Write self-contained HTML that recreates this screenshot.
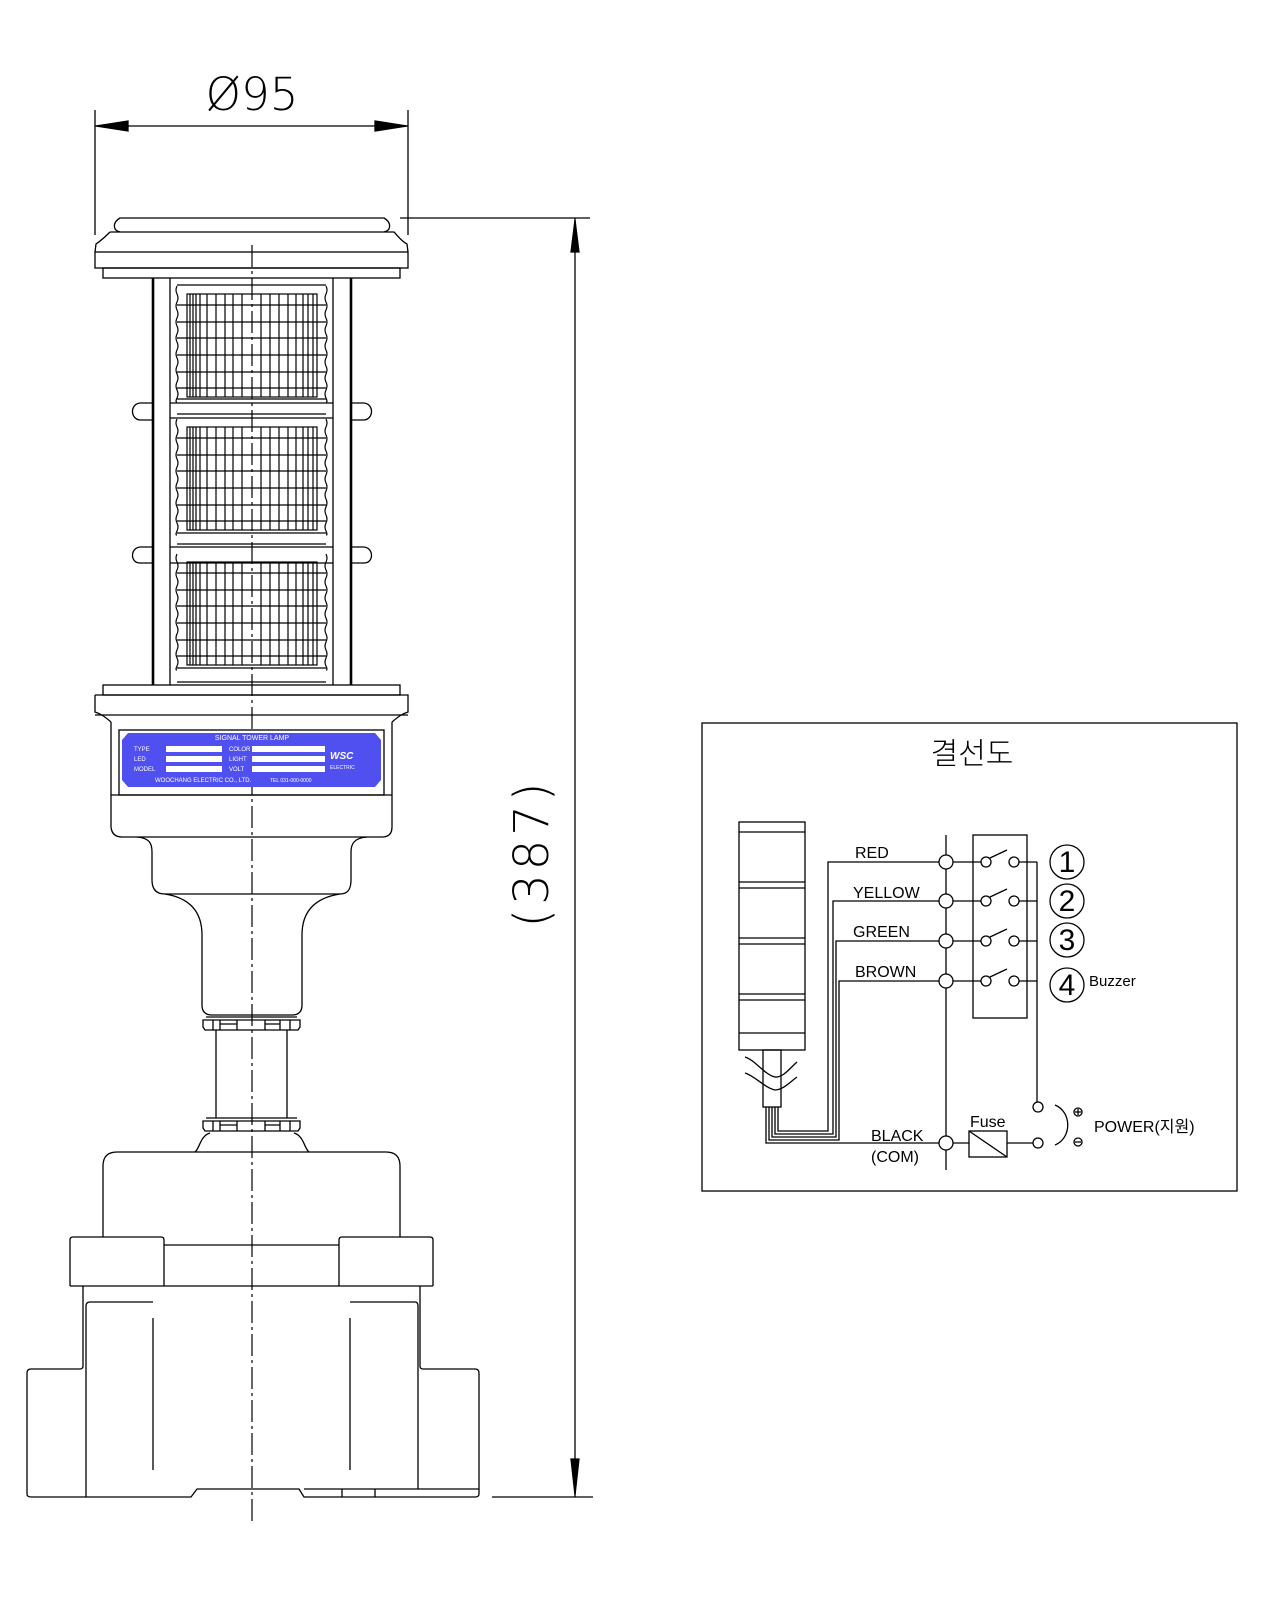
<!DOCTYPE html>
<html><head><meta charset="utf-8"><style>
html,body{margin:0;padding:0;background:#fff;}
svg{display:block;}
text{font-family:"Liberation Sans","Noto Sans CJK KR",sans-serif;}
</style></head><body>
<svg width="1280" height="1600" viewBox="0 0 1280 1600" xmlns="http://www.w3.org/2000/svg">
<defs>
<g id="tier" fill="none" stroke="#000" stroke-width="1.2">
  <path d="M177 286 q-2 4 0 8 q2 4 0 8 q-2 4 0 8 q2 4 0 8 q-2 4 0 8 q2 4 0 8 q-2 4 0 8 q2 4 0 8 q-2 4 0 8 q2 4 0 8 q-2 4 0 8 q2 4 0 8 q-2 4 0 8 q2 4 0 8 q-2 4 0 4"/>
  <path d="M326 286 q2 4 0 8 q-2 4 0 8 q2 4 0 8 q-2 4 0 8 q2 4 0 8 q-2 4 0 8 q2 4 0 8 q-2 4 0 8 q2 4 0 8 q-2 4 0 8 q2 4 0 8 q-2 4 0 8 q2 4 0 8 q-2 4 0 8 q2 4 0 4"/>
  <rect x="187" y="294" width="130" height="103"/>
  <path d="M190 294V397M193 294V397M196 294V397M200 294V397M207 294V397M216 294V397M225 294V397M233 294V397M242 294V397M261 294V397M270 294V397M279 294V397M288 294V397M296 294V397M303 294V397M308 294V397M313 294V397"/>
  <path d="M177 305H326M177 322H326M177 338H326M177 355H326M177 372H326M177 388H326"/>
</g>
</defs>

<g fill="none" stroke="#000" stroke-width="1.3">
<path d="M95 110V235M408 110V235M95 126H408"/>
<path d="M96 126L128 121L128 131Z M407 126L375 121L375 131Z" fill="#000"/>
<path d="M400 218H590M492 1497H593M575 218V1497"/>
<path d="M575 220L571 252H579Z M575 1495L571 1459H579Z" fill="#000"/>

<path d="M120 232 C112 230 113 222 120 218 H384 C391 222 392 230 384 232"/>
<path d="M110 232 H394 C398 236 400 240 407 244 L408 252 M110 232 C106 236 102 240 96 244 L95 252"/>
<rect x="95" y="252" width="313" height="16"/>
<rect x="103" y="268" width="297" height="10"/>
<path d="M170 278V685M333 278V685"/>
<path d="M153 278V685M351 278V685" stroke-width="2.6"/>
<path d="M177 285H326"/>
<use href="#tier"/>
<use href="#tier" transform="translate(0,133)"/>
<use href="#tier" transform="translate(0,268)"/>
<path d="M170 403H333M170 418H333M177 399H326M177 414H326" />
<path d="M170 547H333M170 563H333M177 533H326M177 544H326"/>
<path d="M177 668H326M177 682H326"/>
<path d="M153 403H140 C130 404 130 419 140 420H153 M351 403H364 C374 404 374 419 364 420H351"/>
<path d="M153 547H140 C130 548 130 563 140 563H153 M351 547H364 C374 548 374 563 364 563H351"/>

<rect x="103" y="685" width="297" height="10"/>
<path d="M95 695H408V712 C402 714 399 716 392 722 M95 695V712 C101 714 104 716 111 722"/>
<path d="M95 715H408"/>
<path d="M111 722V827 Q112 837 122 837H382 Q392 837 392 827V722"/>
<path d="M111 795H392"/>
<rect x="119" y="730" width="265" height="65"/>
<path d="M137 837 C150 838 152 844 152 852V880 C152 889 156 894 165 894 H340 C348 894 351 889 351 880V852 C351 844 354 838 367 837"/>
<path d="M165 894 C190 898 202 912 202 935V1005 Q202 1015 212 1015H292 Q302 1015 302 1005V935 C302 912 314 898 340 894"/>
<path d="M203 1020H300V1027L298 1030H205L203 1027Z"/>
<path d="M206 1017H297 M213 1020V1030M220 1020V1030M237 1020V1030M265 1020V1030M280 1020V1030M290 1020V1030M220 1024H237M265 1024H280"/>
<path d="M216 1030V1118M287 1030V1118"/>
<path d="M203 1121H300V1128L298 1131H205L203 1128Z"/>
<path d="M206 1118H297 M213 1121V1131M220 1121V1131M237 1121V1131M265 1121V1131M280 1121V1131M290 1121V1131M220 1125H237M265 1125H280"/>
<path d="M210 1133 C200 1136 200 1148 195 1152 M294 1133 C304 1136 304 1148 309 1152"/>
<path d="M103 1237V1166 Q103 1152 117 1152H386 Q400 1152 400 1166V1237"/>
<path d="M70 1286V1240 Q70 1237 73 1237H161 Q164 1237 164 1240V1286 M339 1286V1240 Q339 1237 342 1237H430 Q433 1237 433 1240V1286 M164 1245H339 M70 1286H433"/>
<path d="M83 1286V1366 Q83 1369 80 1369H31 Q27 1369 27 1373V1494 Q27 1497 31 1497H191 L197 1489H299 L304 1497H475 Q479 1497 479 1494V1373 Q479 1369 475 1369H423 Q420 1369 420 1366V1286"/>
<path d="M86 1497V1306 Q86 1302 90 1302H153 M350 1302H415 Q418 1302 418 1306V1489 M304 1489H479 M342 1489V1497M375 1489V1497"/>
<path d="M153 1318V1470M350 1318V1470"/>
</g>
<path d="M252 245V1521" stroke="#000" stroke-width="1.2" stroke-dasharray="22,4,3,4" fill="none"/>

<path d="M128 733H375 L381 740V780 L375 787H128 L122 780V740Z" fill="#5050f0"/>
<g fill="#fff" font-size="6">
<text x="252" y="740" text-anchor="middle" font-size="7">SIGNAL TOWER LAMP</text>
<rect x="166" y="746" width="56" height="6"/><rect x="166" y="756" width="56" height="6"/><rect x="166" y="766" width="56" height="6"/>
<rect x="252" y="746" width="73" height="6"/><rect x="252" y="756" width="73" height="6"/><rect x="252" y="766" width="73" height="6"/>
<text x="134" y="751">TYPE</text><text x="134" y="761">LED</text><text x="134" y="771">MODEL</text>
<text x="229" y="751">COLOR</text><text x="229" y="761">LIGHT</text><text x="229" y="771">VOLT</text>
<text x="330" y="759" font-size="10" font-weight="bold" font-style="italic">WSC</text>
<text x="330" y="769" font-size="5">ELECTRIC</text>
<text x="155" y="782">WOOCHANG ELECTRIC CO., LTD.</text>
<text x="270" y="782" font-size="5">TEL  031-000-0000</text>
</g>

<text x="252" y="110" text-anchor="middle" font-size="45" font-weight="200" fill="#000" style="font-family:'DejaVu Sans',sans-serif">Ø95</text>
<text transform="translate(548,853) rotate(-90)" text-anchor="middle" font-size="48" font-weight="200" fill="#000" style="font-family:'DejaVu Sans',sans-serif;letter-spacing:4px">(387)</text>

<rect x="702" y="723" width="535" height="468" fill="none" stroke="#000" stroke-width="1.3"/>
<text x="972" y="764" text-anchor="middle" font-size="30" style="font-family:'Noto Sans CJK KR',sans-serif;font-weight:300">결선도</text>
<g fill="none" stroke="#000" stroke-width="1.3">
<rect x="739" y="822" width="66" height="228"/>
<path d="M739 832H805M739 882H805M739 888H805M739 938H805M739 944H805M739 994H805M739 1000H805M739 1033H805"/>
<rect x="763" y="1050" width="18" height="57"/>
<path d="M745 1057 C755 1060 765 1075 775 1077 C783 1078 790 1068 797 1062 M745 1073 C755 1076 765 1088 775 1090 C783 1090 790 1082 797 1077"/>
<path d="M766 1107V1143H939 M769 1107V1140H839V981H939 M772 1107V1137H836V941H939 M775 1107V1134H833V901H939 M778 1107V1131H828V862H939"/>
<path d="M946 835V1170"/>
<g fill="#fff"><circle cx="946" cy="862" r="7"/><circle cx="946" cy="901" r="7"/><circle cx="946" cy="941" r="7"/><circle cx="946" cy="981" r="7"/><circle cx="946" cy="1143" r="7"/></g>
<rect x="973" y="835" width="54" height="183"/>
<path d="M953 862H981M953 901H981M953 941H981M953 981H981"/>
<path d="M1019 862H1037M1019 901H1037M1019 941H1037M1019 981H1037M1037 862V1102"/>
<g fill="#fff">
<circle cx="986" cy="862" r="5"/><circle cx="1014" cy="862" r="5"/>
<circle cx="986" cy="901" r="5"/><circle cx="1014" cy="901" r="5"/>
<circle cx="986" cy="941" r="5"/><circle cx="1014" cy="941" r="5"/>
<circle cx="986" cy="981" r="5"/><circle cx="1014" cy="981" r="5"/>
</g>
<path d="M990 858L1007 850M990 897L1007 889M990 937L1007 929M990 977L1007 969"/>
<circle cx="1067" cy="862" r="17"/><circle cx="1067" cy="901" r="17"/><circle cx="1067" cy="940" r="17"/><circle cx="1067" cy="985" r="17"/>
<circle cx="1038" cy="1107" r="5"/><circle cx="1038" cy="1143" r="5"/>
<path d="M953 1143H969M1007 1143H1033"/>
<rect x="969" y="1131" width="38" height="26"/>
<path d="M969 1131L1007 1157"/>
<path d="M1055 1105 C1072 1112 1072 1138 1055 1145"/>
<circle cx="1078" cy="1112" r="4"/><circle cx="1078" cy="1142" r="4"/>
<path d="M1075 1112H1081M1078 1109V1115M1075 1142H1081"/>
</g>
<g fill="#000" font-size="16">
<text x="855" y="858">RED</text>
<text x="853" y="898">YELLOW</text>
<text x="853" y="937">GREEN</text>
<text x="855" y="977">BROWN</text>
<text x="871" y="1141">BLACK</text>
<text x="871" y="1162">(COM)</text>
<text x="970" y="1127">Fuse</text>
<text x="1094" y="1132">POWER(지원)</text>
<text x="1089" y="986" font-size="15">Buzzer</text>
<g font-size="30" text-anchor="middle"><text x="1067" y="872">1</text><text x="1067" y="911">2</text><text x="1067" y="950">3</text><text x="1067" y="995">4</text></g>
</g>
</svg>
</body></html>
